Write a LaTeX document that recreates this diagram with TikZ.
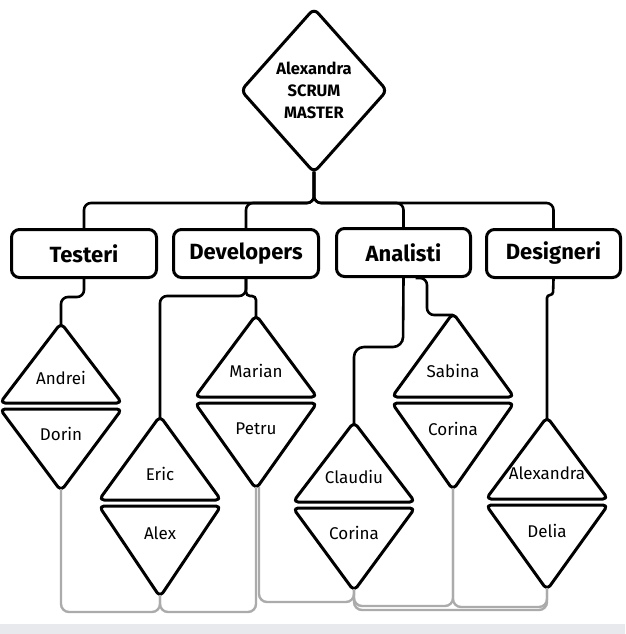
\documentclass[tikz,border=0pt]{standalone}
\usepackage{fontspec}
\setmainfont{Fira Sans}
\usetikzlibrary{shapes.geometric}

\definecolor{linegray}{HTML}{ABABAB}
\definecolor{bandgray}{HTML}{E8E9ED}

\tikzset{
  lead/.style={draw=black,line width=2.6pt,rounded corners=7pt},
  back/.style={draw=linegray,line width=2.4pt,rounded corners=8pt},
  team/.style={draw,line width=3pt,rounded corners=8pt,fill=white,
    minimum width=145pt,minimum height=48pt,
    font=\fontsize{22}{26}\selectfont\bfseries},
  tri/.style={draw,line width=3pt,rounded corners=5pt,fill=white,line join=round},
  member/.style={font=\fontsize{17}{20}\selectfont},
}

% one pair of triangles: up name, down name, x, top, middle, bottom, texts
\newcommand\pair[8]{%
  \coordinate (#1-top) at (#3,#4);
  \coordinate (#2-bot) at (#3,#6);
  \draw[tri] (#3,#4-2) -- (#3+61,#5-3) -- (#3-61,#5-3) -- cycle;
  \draw[tri] (#3-61,#5+3) -- (#3+61,#5+3) -- (#3,#6+2) -- cycle;
  \node[member] (#1) at (#3,{(#4+2*#5)/3-1}) {#7};
  \node[member] (#2) at (#3,{(2*#5+#6)/3}) {#8};
}

\begin{document}
\begin{tikzpicture}[x=1pt,y=-1pt]
\useasboundingbox (0,0) rectangle (625,634);
\fill[bandgray] (0,624) rectangle (625,634);

% Define vertices
\node[diamond,draw,line width=3pt,rounded corners=6pt,fill=white,
  minimum width=147pt,minimum height=165pt,inner sep=0pt,align=center,
  font=\fontsize{16.5}{22}\selectfont\bfseries] (sm) at (314,90.5)
  {Alexandra\\SCRUM\\MASTER};

\node[team] (te) at (84,253.5) {Testeri};
\node[team] (dev) at (246,253.5) {Developers};
\node[team,minimum width=134pt] (an) at (403.5,252.5) {Analisti};
\node[team,minimum width=134pt] (des) at (553.5,253.5) {Designeri};

\pair{andrei}{dorin}{61}{325}{406}{489}{Andrei}{Dorin}
\pair{eric}{alex}{160}{418}{503}{595}{Eric}{Alex}
\pair{marian}{petru}{256}{317}{400}{487}{Marian}{Petru}
\pair{claudiu}{corinaA}{354}{424}{505}{589}{Claudiu}{Corina}
\pair{sabina}{corinaB}{453}{315}{400}{488}{Sabina}{Corina}
\pair{alexandra}{delia}{547}{419}{502}{588}{Alexandra}{Delia}

% Draw edges
\draw[lead] ([yshift=3pt]sm.south) -- (314,203) -| (te.north);
\draw[lead] ([yshift=3pt]sm.south) -- (314,203) -| (dev.north);
\draw[lead] ([yshift=3pt]sm.south) -- (314,203) -| (an.north);
\draw[lead] ([yshift=3pt]sm.south) -- (314,203) -| (des.north);

\draw[lead] (te.south) -- (84,297) -| (andrei-top);
\draw[lead] (dev.south) -- (246,296) -| (eric-top);
\draw[lead,rounded corners=4pt] (dev.south) -- (246,296) -| (marian-top);
\draw[lead,rounded corners=10pt] (an.south) -- (403,347) -| (claudiu-top);
\draw[lead] ([xshift=12pt]an.south) -| (427,315) -- (sabina-top);
\draw[lead,rounded corners=3pt] (des.south) -- (553,295) -| (alexandra-top);

\draw[back] (dorin-bot) -- (61,612) -| (alex-bot);
\draw[back] (petru-bot) -- (256,612) -| (alex-bot);
\draw[back] ([xshift=3pt]petru-bot) -- (259,602) -| (corinaA-bot);
\draw[back] (corinaA-bot) -- (354,606) -| (corinaB-bot);
\draw[back] (corinaA-bot) -- (354,610) -| (delia-bot);
\draw[back] (corinaB-bot) -- (453,607) -| (delia-bot);
\end{tikzpicture}
\end{document}
